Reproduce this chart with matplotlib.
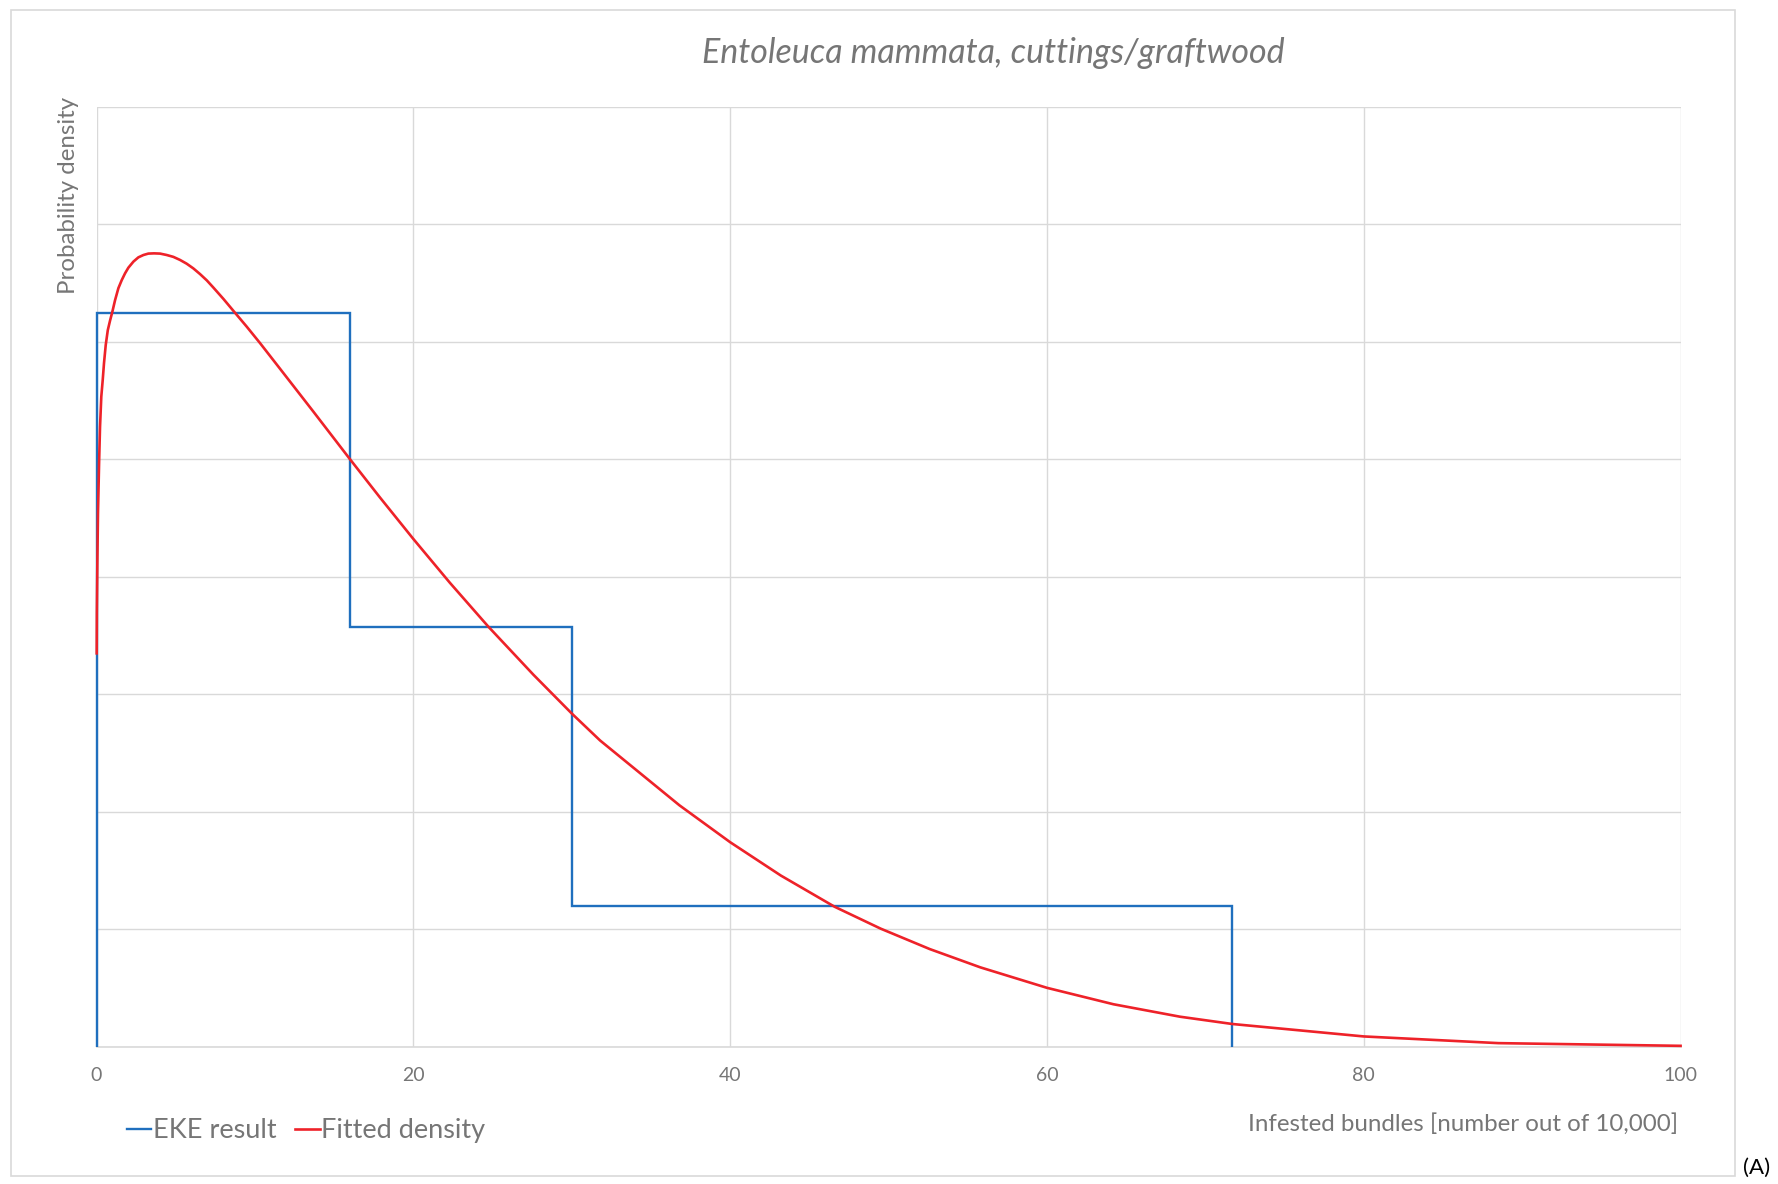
import numpy as np
import matplotlib
matplotlib.use("Agg")
import matplotlib.pyplot as plt
from matplotlib.patches import Rectangle

plt.rcParams["font.family"] = ["Lato", "DejaVu Sans"]

# =========================
# DATA
# =========================
# EKE result: bin edges and densities (quartile-based histogram)
eke_edges = [0, 16, 30, 71.7]
eke_density = [0.03125, 0.017857, 0.0060]

# fitted density curve, read point by point
fit_x = [0.01, 0.02, 0.05, 0.09, 0.16, 0.22, 0.30, 0.39, 0.47, 0.58, 0.71,
         0.85, 1.00, 1.17, 1.38, 1.59, 1.80, 2.01, 2.33, 2.64, 2.96, 3.27,
         3.63, 4.01, 4.43, 4.85, 5.27, 5.69, 6.11, 6.53, 6.96, 7.38, 8.01,
         8.68, 9.48, 10.32, 11.58, 13.69, 15.96, 17.90, 20.00, 22.30, 24.73,
         27.58, 30.00, 31.79, 36.80, 40.00, 43.20, 46.60, 49.50, 52.60,
         55.80, 60.00, 64.20, 68.40, 71.70, 80.00, 88.50, 100.00]
fit_y = [0.01674, 0.01845, 0.02057, 0.02270, 0.02483, 0.02639, 0.02767,
         0.02838, 0.02909, 0.02987, 0.03050, 0.03090, 0.03129, 0.03178,
         0.03229, 0.03263, 0.03292, 0.03316, 0.03342, 0.03360, 0.03370,
         0.03376, 0.03377, 0.03376, 0.03370, 0.03362, 0.03349, 0.03333,
         0.03313, 0.03289, 0.03262, 0.03231, 0.03183, 0.03129, 0.03065,
         0.02995, 0.02886, 0.02703, 0.02504, 0.02337, 0.02161, 0.01975,
         0.01788, 0.01583, 0.01418, 0.01303, 0.01027, 0.00870, 0.00728,
         0.00595, 0.00502, 0.00415, 0.00337, 0.00250, 0.00180, 0.00127,
         0.00096, 0.00043, 0.000145, 0.00003]

x_ticks = [0, 20, 40, 60, 80, 100]
y_grid = np.arange(0, 0.0401, 0.005)

title = "Entoleuca mammata, cuttings/graftwood"
x_label = "Infested bundles [number out of 10,000]"
y_label = "Probability density"

# =========================
# STYLE
# =========================
GRAY_TEXT = "#767676"
GRID = "#d9d9d9"
BLUE = "#1f6fbe"
RED = "#ee2229"

fig = plt.figure(figsize=(17.78, 11.84), dpi=100)
fig.patch.set_facecolor("white")

# outer chart frame
fig.patches.append(Rectangle((0.0062, 0.0068), 0.9696, 0.9848,
                             transform=fig.transFigure, fill=False,
                             edgecolor=GRID, linewidth=1.2))

ax = fig.add_axes([0.0543, 0.1161, 0.8909, 0.7935])

ax.stairs(eke_density, eke_edges, baseline=0, color=BLUE, linewidth=1.7,
          label="EKE result", clip_on=False, zorder=3)
ax.plot(fit_x, fit_y, color=RED, linewidth=1.9, label="Fitted density",
        clip_on=False, zorder=4, solid_joinstyle="round")

ax.set_xlim(0, 100)
ax.set_ylim(0, 0.04)
ax.set_xticks(x_ticks)
ax.set_yticks(y_grid)
ax.set_yticklabels([])
ax.grid(True, color=GRID, linewidth=1.0)
ax.set_axisbelow(True)
ax.tick_params(length=0, labelsize=14, labelcolor=GRAY_TEXT, pad=15)
ax.tick_params(axis="y", left=False)
for side in ["top", "right", "left"]:
    ax.spines[side].set_visible(False)
ax.spines["bottom"].set_color(GRID)
ax.spines["bottom"].set_linewidth(1.2)

# =========================
# TEXT
# =========================
fig.text(0.5585, 0.955, title, ha="center", va="center", fontsize=24.5,
         style="italic", color=GRAY_TEXT)
fig.text(0.0388, 0.835, y_label, ha="center", va="center", rotation=90,
         fontsize=17.3, color=GRAY_TEXT)
fig.text(0.944, 0.0507, x_label, ha="right", va="center", fontsize=17.4,
         color=GRAY_TEXT)
fig.text(0.988, 0.0135, "(A)", ha="center", va="center", fontsize=16,
         color="black")

handles, labels = ax.get_legend_handles_labels()
fig.legend(handles, labels, loc="center left",
           bbox_to_anchor=(0.0714, 0.0448), ncol=2, frameon=False,
           fontsize=19.5, labelcolor=GRAY_TEXT, handlelength=0.9,
           handletextpad=0.05, columnspacing=0.7, borderpad=0,
           borderaxespad=0)

fig.savefig("out.png", dpi=100)
